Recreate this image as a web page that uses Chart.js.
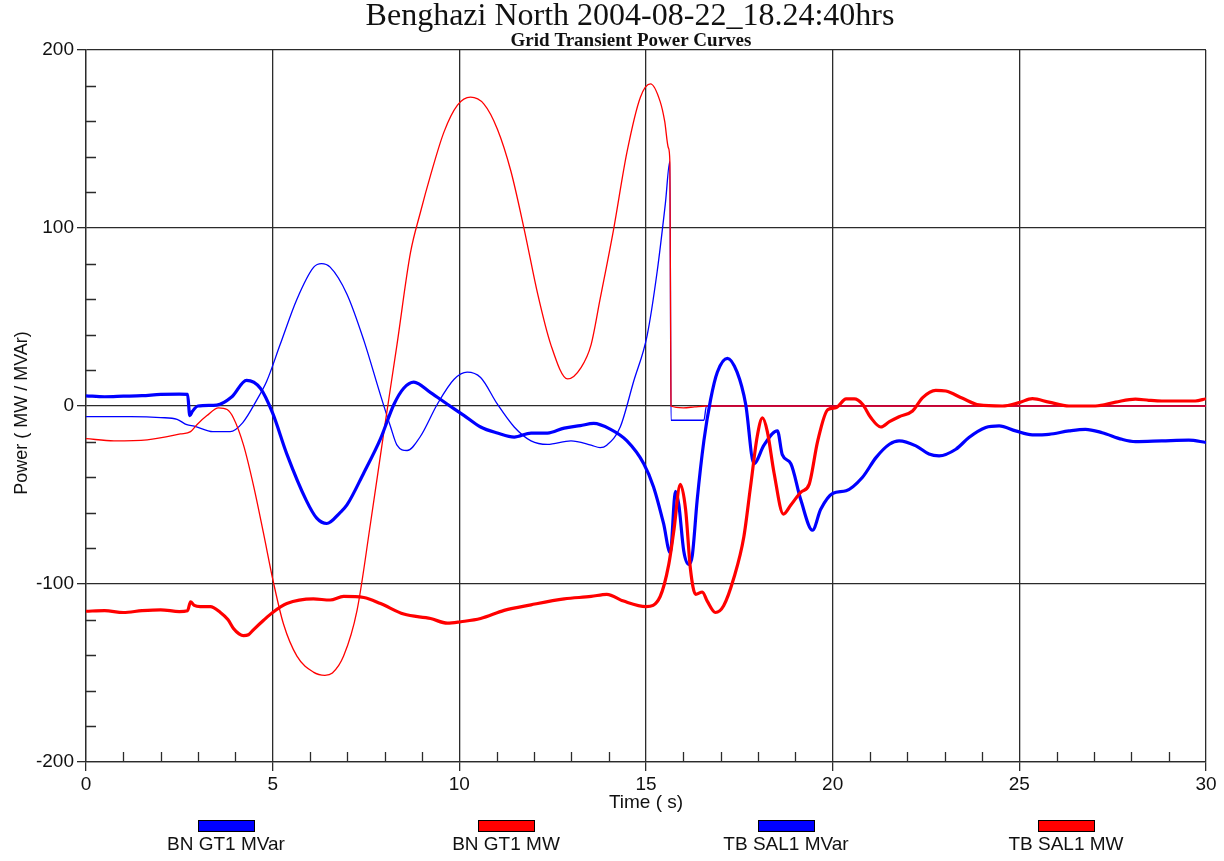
<!DOCTYPE html>
<html>
<head>
<meta charset="utf-8">
<title>Benghazi North 2004-08-22</title>
<script src="https://cdn.jsdelivr.net/npm/chart.js@4.4.1/dist/chart.umd.min.js"></script>
<style>
  body { margin: 0; background: #fff; }
  #powerChart { display: block; }
</style>
</head>
<body>
<canvas id="powerChart" width="1224" height="861"></canvas>
<script>
    // time axis ticks and power axis ticks
    const timeTicks = [0, 5, 10, 15, 20, 25, 30];
    const powerTicks = [-200, -100, 0, 100, 200];

    const seriesNames = ['BN GT1 MVar', 'BN GT1 MW', 'TB SAL1 MVar', 'TB SAL1 MW'];

    // BN GT1 MVar (thin blue) - unit trips at ~15.7 s
    const bnMvarT = [0, 1.2, 2.0, 2.44, 2.7, 2.9, 3.4, 3.86, 4.2, 4.58, 4.84, 5.2, 5.65, 6.1, 6.31, 6.54, 6.99, 7.44, 7.89, 8.16, 8.33, 8.6, 8.96, 9.41, 9.86, 10.21, 10.57, 11.02, 11.47, 11.92, 12.36, 12.99, 13.53, 13.77, 13.95, 14.31, 14.67, 15.03, 15.3, 15.52, 15.64, 15.67, 16.0, 16.55, 16.62, 20, 25, 30];
    const bnMvarV = [-6, -6, -6.5, -7.5, -10.5, -11.3, -14.4, -14.4, -9.3, 3.6, 13.9, 34.5, 60, 78, 80, 78, 62.8, 37, 6, -11.8, -22, -25, -17, 1, 15, 19, 16, 1, -11.8, -19.6, -21.6, -19.6, -22, -23.4, -22, -11.8, 13.9, 39.6, 75.7, 114, 137.5, -8, -8, -8, 0, 0, 0, 0];

    // BN GT1 MW (thin red)
    const bnMwT = [0, 0.75, 1.64, 2.53, 2.8, 2.97, 3.24, 3.55, 3.78, 3.95, 4.22, 4.49, 4.75, 5.02, 5.29, 5.65, 6.09, 6.4, 6.6, 6.9, 7.26, 7.62, 7.98, 8.33, 8.69, 8.96, 9.23, 9.59, 9.95, 10.3, 10.66, 11.02, 11.38, 11.74, 12.1, 12.45, 12.9, 13.26, 13.53, 13.77, 14.13, 14.49, 14.85, 15.12, 15.38, 15.5, 15.6, 15.64, 15.67, 16.0, 16.3, 16.6, 20, 25, 30];
    const bnMwV = [-18.3, -19.6, -19, -15.7, -14.4, -10.5, -5.4, -1, -2, -6.7, -22, -45, -71, -99, -122.5, -140.5, -149.5, -151.3, -150, -140.5, -114.8, -66, -14.4, 34.5, 86, 109, 129.7, 154, 169, 173.5, 169.6, 155.5, 132, 99, 62.8, 34.5, 15.2, 21.6, 34.5, 60, 99, 142.6, 173.5, 181, 171, 160, 145, 137, 0, -1, -0.5, 0, 0, 0, 0];

    // TB SAL1 MVar (thick blue)
    const tbMvarT = [0, 0.5, 1.0, 1.5, 2.0, 2.5, 2.72, 2.78, 2.85, 3.0, 3.5, 3.9, 4.3, 4.67, 5.0, 5.38, 5.9, 6.18, 6.45, 6.8, 6.99, 7.44, 7.89, 8.25, 8.51, 8.78, 9.23, 9.68, 10.13, 10.57, 11.02, 11.47, 11.92, 12.36, 12.81, 13.24, 13.6, 14.04, 14.49, 14.94, 15.2, 15.47, 15.65, 15.79, 15.88, 16.01, 16.15, 16.24, 16.37, 16.55, 16.73, 16.91, 17.18, 17.44, 17.67, 17.89, 18.16, 18.52, 18.65, 18.88, 19.15, 19.46, 19.68, 20.01, 20.36, 20.8, 21.16, 21.52, 21.78, 22.23, 22.58, 22.85, 23.3, 23.65, 24.1, 24.46, 24.9, 25.35, 25.79, 26.33, 26.77, 27.22, 27.75, 28.11, 28.82, 29.54, 30];
    const tbMvarV = [5.7, 5.2, 5.5, 5.8, 6.5, 6.7, 6.5, -5.4, -3, 0, 0.5, 5, 14.4, 10, -4, -27, -53, -63, -66, -60, -55.6, -37.6, -18.3, 1, 10, 13.4, 7.5, 1, -5.4, -11.8, -15.2, -17.5, -15.2, -15.2, -12.4, -11, -9.8, -13, -19.6, -32.4, -45.3, -66, -82.6, -47.9, -55.6, -81.3, -89, -84, -53, -19.6, 3.6, 19, 26.8, 19, 1, -32.4, -22, -13.9, -27.3, -32.4, -53, -69.8, -58, -49, -47.6, -40, -29, -21.5, -19.6, -22.4, -27, -28, -24.3, -17.7, -12.1, -11.2, -14, -16.2, -15.9, -14, -13.1, -15, -18.7, -20, -19.6, -19.2, -20.5];

    // TB SAL1 MW (thick red)
    const tbMwT = [0, 0.5, 1.0, 1.5, 2.0, 2.5, 2.72, 2.8, 2.9, 3.06, 3.33, 3.6, 3.8, 3.95, 4.1, 4.22, 4.35, 4.49, 4.75, 5.0, 5.38, 6.09, 6.54, 6.9, 7.44, 7.89, 8.51, 9.23, 9.68, 10.04, 10.57, 11.2, 11.92, 12.81, 13.53, 13.95, 14.4, 15.0, 15.38, 15.61, 15.74, 15.92, 16.06, 16.19, 16.33, 16.51, 16.64, 16.86, 17.08, 17.35, 17.62, 17.8, 17.98, 18.12, 18.25, 18.43, 18.68, 18.88, 19.15, 19.37, 19.6, 19.87, 20.09, 20.36, 20.58, 20.8, 21.02, 21.29, 21.52, 21.78, 22.14, 22.41, 22.76, 23.03, 23.48, 23.92, 24.55, 24.99, 25.35, 25.79, 26.33, 27.04, 27.58, 28.11, 28.47, 28.82, 29.71, 30];
    const tbMwV = [-115.3, -115, -116, -115, -114.5, -115.5, -115, -110, -112, -112.7, -112.7, -116, -120, -125, -128, -129, -128.5, -125.6, -120.5, -116, -111, -108.4, -109, -107, -107.6, -111, -116.9, -119.4, -122, -121.2, -119.4, -114.8, -111.7, -108.4, -107, -105.8, -109.6, -112.7, -107, -89, -71, -44, -58, -91.6, -105.8, -104.5, -109.6, -116, -112.2, -96.8, -73.6, -45.3, -17, -6.7, -14.4, -37.6, -60.7, -55.6, -48.4, -44, -19.6, -2, -1, 4, 4, 1, -6.5, -11.8, -8.8, -6, -2.8, 4.7, 8.8, 8.4, 4.3, 0.6, 0, 1.9, 4.1, 2.2, 0, 0, 2.2, 3.9, 3.2, 2.8, 2.8, 4.1];

    const toPoints = (ts, vs) => ts.map((t, i) => ({ x: t, y: vs[i] }));

    const lineColor = '#2b2b2b';
    const textColor = '#111';

    // minor ticks, titles and the legend with labels under the swatches
    const decorations = {
        id: 'decorations',
        afterDraw(chart) {
            const { ctx, chartArea: area, scales } = chart;
            const x = scales.x, y = scales.y;
            ctx.save();
            ctx.strokeStyle = lineColor;
            ctx.lineWidth = 1.3;
            ctx.beginPath();
            for (let t = 1; t < 30; t++) {
                if (t % 5 === 0) continue;
                const px = Math.round(x.getPixelForValue(t)) + 0.5;
                ctx.moveTo(px, area.bottom);
                ctx.lineTo(px, area.bottom - 10);
            }
            for (let v = -180; v < 200; v += 20) {
                if (v % 100 === 0) continue;
                const py = Math.round(y.getPixelForValue(v)) + 0.5;
                ctx.moveTo(area.left, py);
                ctx.lineTo(area.left + 10, py);
            }
            ctx.stroke();

            const cx = (area.left + area.right) / 2;
            ctx.fillStyle = textColor;
            ctx.textAlign = 'center';
            ctx.textBaseline = 'middle';
            ctx.font = '32px "Liberation Serif"';
            ctx.fillText('Benghazi North 2004-08-22_18.24:40hrs', cx - 16, 17);
            ctx.font = 'bold 19px "Liberation Serif"';
            ctx.fillText('Grid Transient Power Curves', cx - 15, 41);

            ctx.font = '19px "Liberation Sans"';
            ctx.fillText('Time ( s)', cx, 803);

            ctx.save();
            ctx.translate(22, 413);
            ctx.rotate(-Math.PI / 2);
            ctx.font = '18px "Liberation Sans"';
            ctx.fillText('Power ( MW / MVAr)', 0, 0);
            ctx.restore();

            chart.data.datasets.forEach((ds, i) => {
                const lx = area.left + 140 + i * 280;
                ctx.fillStyle = ds.borderColor;
                ctx.fillRect(lx - 28, 820, 56, 11);
                ctx.strokeStyle = '#000';
                ctx.lineWidth = 1;
                ctx.strokeRect(lx - 28 + 0.5, 820.5, 56, 11);
                ctx.fillStyle = textColor;
                ctx.font = '19px "Liberation Sans"';
                ctx.fillText(ds.label, lx, 845);
            });
            ctx.restore();
        }
    };

    const data = {
        datasets: [{
            label: seriesNames[0],
            data: toPoints(bnMvarT, bnMvarV),
            borderColor: '#0000ff',
            borderWidth: 1.3,
            order: 3
        }, {
            label: seriesNames[1],
            data: toPoints(bnMwT, bnMwV),
            borderColor: '#ff0000',
            borderWidth: 1.3,
            order: 2
        }, {
            label: seriesNames[2],
            data: toPoints(tbMvarT, tbMvarV),
            borderColor: '#0000ff',
            borderWidth: 3.2,
            order: 1
        }, {
            label: seriesNames[3],
            data: toPoints(tbMwT, tbMwV),
            borderColor: '#ff0000',
            borderWidth: 3.2,
            order: 0
        }]
    };

    const config = {
        type: 'line',
        data: data,
        plugins: [decorations],
        options: {
            responsive: false,
            animation: false,
            layout: { padding: { top: 50, right: 18, left: 0, bottom: 0 } },
            elements: {
                point: { radius: 0 },
                line: { cubicInterpolationMode: 'monotone', fill: false }
            },
            plugins: {
                legend: { display: false },
                title: { display: false },
                tooltip: { enabled: false }
            },
            scales: {
                x: {
                    type: 'linear',
                    min: 0,
                    max: 30,
                    afterFit: (scale) => { scale.height = 99; },
                    afterBuildTicks: (scale) => { scale.ticks = timeTicks.map(v => ({ value: v })); },
                    ticks: { color: textColor, font: { family: 'Liberation Sans', size: 19 }, padding: 2, maxRotation: 0 },
                    grid: { color: lineColor, lineWidth: 1.3, tickLength: 9, tickColor: lineColor },
                    border: { color: lineColor, width: 1.3 }
                },
                y: {
                    type: 'linear',
                    min: -200,
                    max: 200,
                    afterFit: (scale) => { scale.width = 86; },
                    afterBuildTicks: (scale) => { scale.ticks = powerTicks.map(v => ({ value: v })); },
                    ticks: { color: textColor, font: { family: 'Liberation Sans', size: 19 }, padding: 3 },
                    grid: { color: lineColor, lineWidth: 1.3, tickLength: 9, tickColor: lineColor },
                    border: { color: lineColor, width: 1.3 }
                }
            }
        }
    };

    const powerChart = new Chart(document.getElementById('powerChart').getContext('2d'), config);
</script>
</body>
</html>
